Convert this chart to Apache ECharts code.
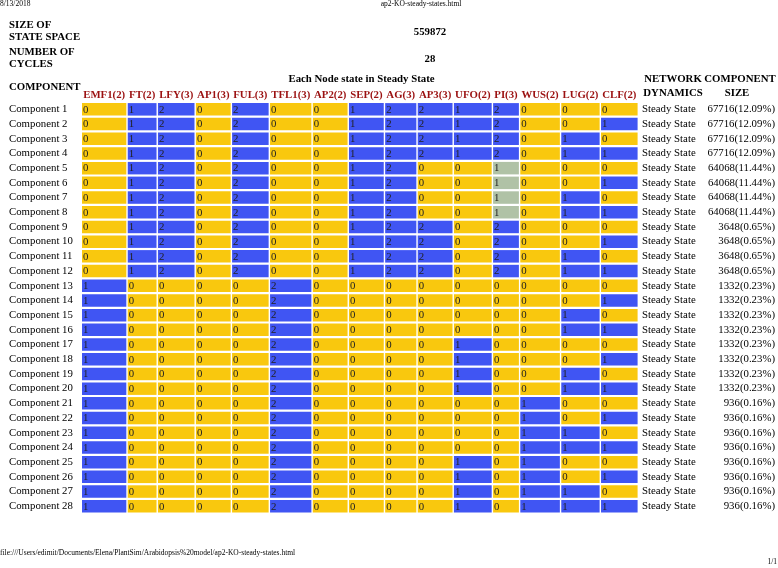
<!DOCTYPE html>
<html><head><meta charset="utf-8">
<script src="https://cdn.jsdelivr.net/npm/echarts@6.0.0/dist/echarts.min.js"></script>
<style>html,body{margin:0;padding:0;background:#fff}#c{width:778px;height:568px}</style>
</head><body><div id="c"></div>
<script>
// ---- data ----
const nodes  = ['EMF1','FT','LFY','AP1','FUL','TFL1','AP2','SEP','AG','AP3','UFO','PI','WUS','LUG','CLF'];
const levels = [2,2,3,3,3,3,2,2,3,3,2,3,2,2,2];
const components = ['Component 1','Component 2','Component 3','Component 4','Component 5','Component 6','Component 7',
  'Component 8','Component 9','Component 10','Component 11','Component 12','Component 13','Component 14',
  'Component 15','Component 16','Component 17','Component 18','Component 19','Component 20','Component 21',
  'Component 22','Component 23','Component 24','Component 25','Component 26','Component 27','Component 28'];
const states = [
  [0,1,2,0,2,0,0,1,2,2,1,2,0,0,0],
  [0,1,2,0,2,0,0,1,2,2,1,2,0,0,1],
  [0,1,2,0,2,0,0,1,2,2,1,2,0,1,0],
  [0,1,2,0,2,0,0,1,2,2,1,2,0,1,1],
  [0,1,2,0,2,0,0,1,2,0,0,1,0,0,0],
  [0,1,2,0,2,0,0,1,2,0,0,1,0,0,1],
  [0,1,2,0,2,0,0,1,2,0,0,1,0,1,0],
  [0,1,2,0,2,0,0,1,2,0,0,1,0,1,1],
  [0,1,2,0,2,0,0,1,2,2,0,2,0,0,0],
  [0,1,2,0,2,0,0,1,2,2,0,2,0,0,1],
  [0,1,2,0,2,0,0,1,2,2,0,2,0,1,0],
  [0,1,2,0,2,0,0,1,2,2,0,2,0,1,1],
  [1,0,0,0,0,2,0,0,0,0,0,0,0,0,0],
  [1,0,0,0,0,2,0,0,0,0,0,0,0,0,1],
  [1,0,0,0,0,2,0,0,0,0,0,0,0,1,0],
  [1,0,0,0,0,2,0,0,0,0,0,0,0,1,1],
  [1,0,0,0,0,2,0,0,0,0,1,0,0,0,0],
  [1,0,0,0,0,2,0,0,0,0,1,0,0,0,1],
  [1,0,0,0,0,2,0,0,0,0,1,0,0,1,0],
  [1,0,0,0,0,2,0,0,0,0,1,0,0,1,1],
  [1,0,0,0,0,2,0,0,0,0,0,0,1,0,0],
  [1,0,0,0,0,2,0,0,0,0,0,0,1,0,1],
  [1,0,0,0,0,2,0,0,0,0,0,0,1,1,0],
  [1,0,0,0,0,2,0,0,0,0,0,0,1,1,1],
  [1,0,0,0,0,2,0,0,0,0,1,0,1,0,0],
  [1,0,0,0,0,2,0,0,0,0,1,0,1,0,1],
  [1,0,0,0,0,2,0,0,0,0,1,0,1,1,0],
  [1,0,0,0,0,2,0,0,0,0,1,0,1,1,1]
];
const dynamics = ['Steady State','Steady State','Steady State','Steady State','Steady State','Steady State','Steady State',
  'Steady State','Steady State','Steady State','Steady State','Steady State','Steady State','Steady State',
  'Steady State','Steady State','Steady State','Steady State','Steady State','Steady State','Steady State',
  'Steady State','Steady State','Steady State','Steady State','Steady State','Steady State','Steady State'];
const sizes = [67716,67716,67716,67716,64068,64068,64068,64068,3648,3648,3648,3648,
  1332,1332,1332,1332,1332,1332,1332,1332,936,936,936,936,936,936,936,936];
const percents = ['12.09','12.09','12.09','12.09','11.44','11.44','11.44','11.44','0.65','0.65','0.65','0.65',
  '0.23','0.23','0.23','0.23','0.23','0.23','0.23','0.23','0.16','0.16','0.16','0.16','0.16','0.16','0.16','0.16'];
const stateSpaceSize = 559872;
const numberOfCycles = 28;

// ---- layout helpers ----
const SERIF = '"Liberation Serif","Times New Roman",serif';
const FS = 10.8;
const headerLabels = nodes.map((n, i) => n + '(' + levels[i] + ')');
const ctx = document.createElement('canvas').getContext('2d');
ctx.font = 'bold ' + FS + 'px ' + SERIF;
const rawW = headerLabels.map(t => ctx.measureText(t).width);
const rawSum = rawW.reduce((a, b) => a + b, 0);
const pad = (559 - rawSum) / nodes.length;   // html table cell padding, spread evenly
const colW = rawW.map(w => w + pad);
const colStart = [];
let acc = 0;
colW.forEach(w => { colStart.push(acc); acc += w; });
const totalW = acc;
const GRID_LEFT = 82, GRID_TOP = 102, ROW_H = 14.7;
const gridRight = GRID_LEFT + totalW;
const colGap = 1.4, rowGap = 2.2;

const YELLOW = '#F9C80E', BLUE = '#4055F3', SAGE = '#B0C2A6';
function cellColor(c, v) {
  if (v === 0) return YELLOW;
  if (v === levels[c] - 1) return BLUE;
  return SAGE;
}

const cellData = [];
states.forEach((row, r) => row.forEach((v, c) => cellData.push([c, r, v])));
const headerData = nodes.map((n, i) => [i, 0]);

const chart = echarts.init(document.getElementById('c'), null, {renderer: 'canvas'});
const boldFont = 'bold ' + FS + 'px ' + SERIF;
const regFont = FS + 'px ' + SERIF;
function gtext(text, x, y, align, font, fill) {
  return {type: 'text', x: x, y: y, silent: true,
    style: {text: text, font: font || boldFont, fill: fill || '#000',
      align: align || 'left', verticalAlign: 'middle', textAlign: align || 'left', textVerticalAlign: 'middle'}};
}
const tableCenter = GRID_LEFT + totalW / 2;
const smallFont = '7.5px ' + SERIF;

chart.setOption({
  animation: false,
  backgroundColor: '#fff',
  grid: {left: GRID_LEFT, top: GRID_TOP, width: totalW, height: ROW_H * components.length, containLabel: false},
  xAxis: {type: 'value', min: 0, max: totalW, show: false},
  yAxis: [
    {type: 'category', data: components, inverse: true, position: 'left',
     axisLine: {show: false}, axisTick: {show: false}, splitLine: {show: false},
     axisLabel: {interval: 0, align: 'left', margin: GRID_LEFT - 9, color: '#000', fontSize: FS, fontFamily: SERIF}},
    {type: 'category', data: components, inverse: true, position: 'right',
     axisLine: {show: false}, axisTick: {show: false}, splitLine: {show: false},
     axisLabel: {interval: 0, align: 'left', margin: 3, color: '#000', fontSize: FS, fontFamily: SERIF,
       formatter: (v, i) => dynamics[i]}},
    {type: 'category', data: components, inverse: true, position: 'right',
     axisLine: {show: false}, axisTick: {show: false}, splitLine: {show: false},
     axisLabel: {interval: 0, align: 'right', margin: 777 - gridRight, color: '#000', fontSize: FS, fontFamily: SERIF,
       formatter: (v, i) => sizes[i] + '(' + percents[i] + '%)'}}
  ],
  series: [
    {type: 'custom', yAxisIndex: 0, data: cellData, encode: {x: 0, y: 1}, silent: true,
     renderItem: function (params, api) {
       const c = api.value(0), r = api.value(1), v = api.value(2);
       const p0 = api.coord([colStart[c], r]);
       const p1 = api.coord([colStart[c] + colW[c], r]);
       const bh = api.size([0, 1])[1];
       const x = p0[0], w = p1[0] - p0[0] - colGap;
       const y = p0[1] - bh / 2 + rowGap / 2, h = bh - rowGap;
       return {type: 'group', children: [
         {type: 'rect', shape: {x: x, y: y, width: w, height: h}, style: {fill: cellColor(c, v)}},
         {type: 'text', x: x + 1, y: y + h / 2 + 0.5,
          style: {text: String(v), font: regFont, fill: '#222', align: 'left', verticalAlign: 'middle'}}
       ]};
     }},
    {type: 'custom', yAxisIndex: 0, data: headerData, encode: {x: 0, y: 1}, silent: true, clip: false,
     renderItem: function (params, api) {
       const c = api.value(0);
       const p = api.coord([colStart[c] + (colW[c] - colGap) / 2, 0]);
       const bh = api.size([0, 1])[1];
       return {type: 'text', x: p[0], y: p[1] - bh / 2 - 7,
         style: {text: headerLabels[c], font: boldFont, fill: '#9B1111', align: 'center', verticalAlign: 'middle'}};
     }}
  ],
  graphic: [
    gtext('8/13/2018', 0, 4, 'left', smallFont),
    gtext('ap2-KO-steady-states.html', 421, 4, 'center', smallFont),
    gtext('SIZE OF', 9, 25),
    gtext('STATE SPACE', 9, 37),
    gtext(String(stateSpaceSize), 430, 32, 'center'),
    gtext('NUMBER OF', 9, 52),
    gtext('CYCLES', 9, 64),
    gtext(String(numberOfCycles), 430, 59, 'center'),
    gtext('Each Node state in Steady State', tableCenter, 79, 'center'),
    gtext('COMPONENT', 9, 87),
    gtext('NETWORK', 673, 79, 'center'),
    gtext('DYNAMICS', 673, 93, 'center'),
    gtext('COMPONENT', 740, 79, 'center'),
    gtext('SIZE', 737, 93, 'center'),
    gtext('file:///Users/edimit/Documents/Elena/PlantSim/Arabidopsis%20model/ap2-KO-steady-states.html', 0, 553, 'left', smallFont),
    gtext('1/1', 777, 562, 'right', smallFont)
  ]
});
</script>
</body></html>
